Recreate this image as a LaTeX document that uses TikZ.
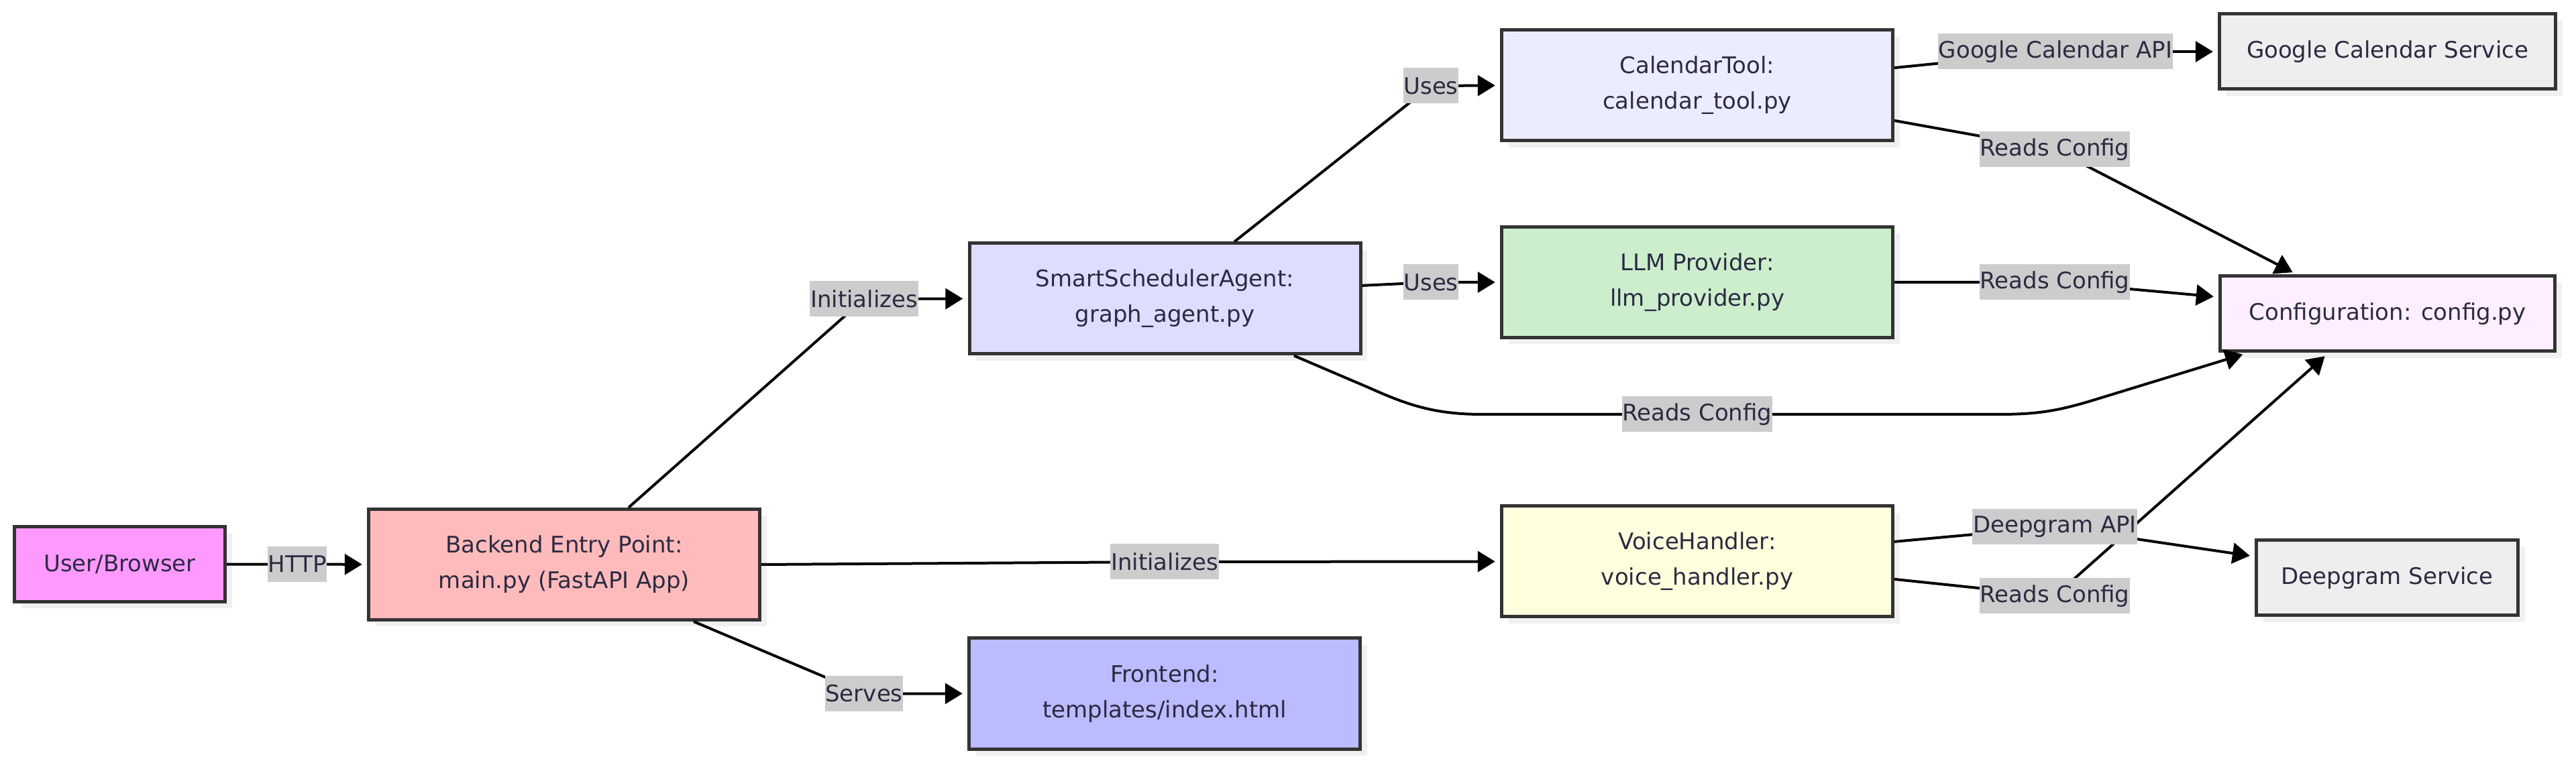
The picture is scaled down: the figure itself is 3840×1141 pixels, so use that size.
\documentclass[tikz,border=0pt]{standalone}
\usepackage{fontspec}
\setmainfont{DejaVu Sans}
\usetikzlibrary{arrows.meta,shadows}
\definecolor{cUser}{HTML}{FF99FF}
\definecolor{cBack}{HTML}{FFBBBB}
\definecolor{cSsa}{HTML}{DDDDFF}
\definecolor{cFront}{HTML}{BBBBFF}
\definecolor{cCal}{HTML}{ECECFF}
\definecolor{cLlm}{HTML}{CCEECC}
\definecolor{cVh}{HTML}{FFFFDD}
\definecolor{cSvc}{HTML}{EEEEEE}
\definecolor{cCfg}{HTML}{FFEEFF}
\definecolor{cLab}{HTML}{CCCCCC}
\definecolor{cShadow}{HTML}{F0F0F0}
\definecolor{cBord}{HTML}{333333}
\definecolor{cTxt}{HTML}{2B2A42}
\begin{document}
\begin{tikzpicture}[x=0.25pt,y=-0.25pt,
  box/.style={draw=cBord, line width=1.25pt, text=cTxt, align=center, inner sep=0pt,
    font=\fontsize{8.5}{13.25}\selectfont,
    drop shadow={shadow xshift=2.5pt, shadow yshift=-2.5pt, fill=cShadow, opacity=1}},
  boxbig/.style={box, minimum width=145.75pt, minimum height=41.25pt},
  boxsmall/.style={box, minimum height=28pt},
  lab/.style={fill=cLab, text=cTxt, inner xsep=0.2pt, inner ysep=0pt, minimum height=13.25pt,
    font=\fontsize{8.5}{10}\selectfont},
  edge/.style={line width=1pt, draw=black, line join=round},
  arr/.style={edge, -{Triangle[length=6.5pt,width=7.7pt]}, shorten >=1.8pt}]
\useasboundingbox (0,0) rectangle (3840,1141);
\fill[white] (0,0) rectangle (3840,1141);

% nodes
\node[boxsmall, fill=cUser, minimum width=78.5pt] (user) at (178.5,841.5) {User/Browser};
\node[boxbig, fill=cBack] (backend) at (841,842) {Backend Entry Point:\\main.py (FastAPI App)};
\node[boxbig, fill=cSsa] (ssa) at (1736.5,445.5) {SmartSchedulerAgent:\\graph\_agent.py};
\node[boxbig, fill=cFront] (front) at (1736,1034.5) {Frontend:\\templates/index.html};
\node[boxbig, fill=cCal] (cal) at (2530,127.5) {CalendarTool:\\calendar\_tool.py};
\node[boxbig, fill=cLlm] (llm) at (2530,421) {LLM Provider:\\llm\_provider.py};
\node[boxbig, fill=cVh] (vh) at (2530,837.5) {VoiceHandler:\\voice\_handler.py};
\node[boxsmall, fill=cSvc, minimum width=125.25pt] (gcs) at (3559,77) {Google Calendar Service};
\node[boxsmall, fill=cCfg, minimum width=124.75pt] (cfg) at (3559,468) {Configuration: config.py};
\node[boxsmall, fill=cSvc, minimum width=97.5pt] (dg) at (3558.5,862) {Deepgram Service};

% label positions
\coordinate (lHTTP) at (443,841.5);
\coordinate (lInitA) at (1288,446);
\coordinate (lInitB) at (1736,838);
\coordinate (lServes) at (1288,1034.5);
\coordinate (lUsesA) at (2133,128);
\coordinate (lUsesB) at (2133,421);
\coordinate (lRcA) at (2530,618);
\coordinate (lGapi) at (3064,77);
\coordinate (lRcB) at (3063,223);
\coordinate (lRcC) at (3063,421);
\coordinate (lDapi) at (3063,786);
\coordinate (lRcD) at (3063,889);

% edges
\draw[arr] (user) -- (backend);
\draw[arr] ([xshift=24pt]backend.north) -- (lInitA) -- (ssa.west);
\draw[arr] (backend.east) -- (lInitB) -- (vh.west);
\draw[arr] ([xshift=48.25pt]backend.south) -- (lServes) -- (front.west);
\draw[arr] ([xshift=25.9pt]ssa.north) -- (lUsesA) -- (cal.west);
\draw[arr] ([yshift=4.9pt]ssa.east) -- (lUsesB) -- (llm.west);
\draw[arr] ([xshift=48.1pt]ssa.south) -- (2040,578) .. controls (2100,605) and (2140,618) .. (2210,618)
   -- (lRcA) -- (2980,618) .. controls (3040,618) and (3070,612) .. (3120,597)
   -- ([xshift=-52.25pt]cfg.south);
\draw[arr] ([yshift=6.6pt]cal.east) -- (lGapi) -- (gcs.west);
\draw[arr] ([yshift=-13.1pt]cal.east) -- (lRcB) -- ([xshift=-33.75pt]cfg.north);
\draw[arr] (llm.east) -- (lRcC) -- ([yshift=6.25pt]cfg.west);
\draw[arr] ([yshift=7.4pt]vh.east) -- (lDapi) -- ([yshift=8pt]dg.west);
\draw[arr] ([yshift=-6.6pt]vh.east) -- (lRcD) -- ([xshift=-22pt]cfg.south);

% labels
\node[lab] (tHTTP) at (lHTTP) {HTTP};
\node[lab] (tInitA) at (lInitA) {Initializes};
\node[lab] (tInitB) at (lInitB) {Initializes};
\node[lab] (tServes) at (lServes) {Serves};
\node[lab] (tUsesA) at (lUsesA) {Uses};
\node[lab] (tUsesB) at (lUsesB) {Uses};
\node[lab] (tRcA) at (lRcA) {Reads Config};
\node[lab] (tGapi) at (lGapi) {Google Calendar API};
\node[lab] (tRcB) at (lRcB) {Reads Config};
\node[lab] (tRcC) at (lRcC) {Reads Config};
\node[lab] (tDapi) at (lDapi) {Deepgram API};
\node[lab] (tRcD) at (lRcD) {Reads Config};
\end{tikzpicture}
\end{document}
